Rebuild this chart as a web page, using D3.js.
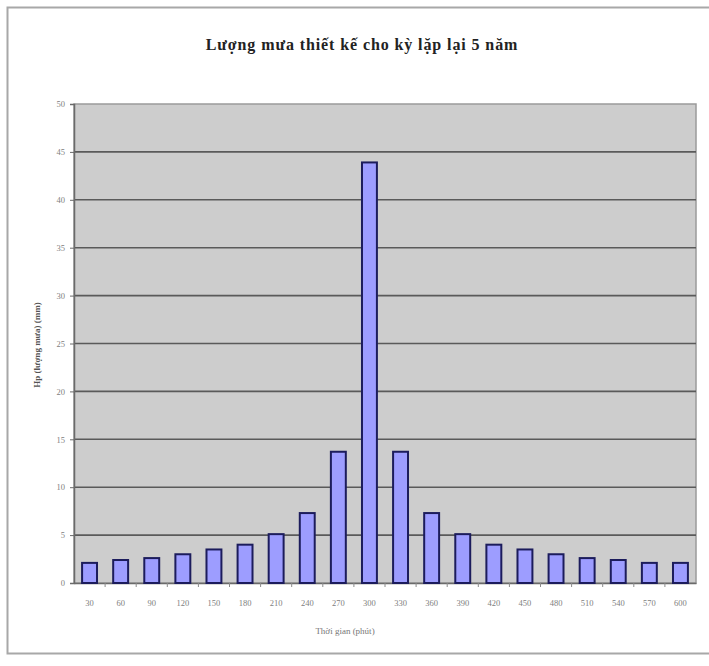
<!DOCTYPE html>
<html>
<head>
<meta charset="utf-8">
<script src="https://cdn.jsdelivr.net/npm/d3@7/dist/d3.min.js"></script>
<style>
  body { margin: 0; background: #fff; }
  svg { display: block; }
</style>
</head>
<body>
<svg id="chart" width="709" height="666"></svg>
<script>
// Rainfall duration (minutes) and design rainfall depth for a 5-year return period
const durations = ["30", "60", "90", "120", "150", "180", "210", "240", "270", "300",
                   "330", "360", "390", "420", "450", "480", "510", "540", "570", "600"];
const rainfall = [2.1, 2.4, 2.6, 3.0, 3.5, 4.0, 5.1, 7.3, 13.7, 43.9,
                  13.7, 7.3, 5.1, 4.0, 3.5, 3.0, 2.6, 2.4, 2.1, 2.1];
const yTicks = [0, 5, 10, 15, 20, 25, 30, 35, 40, 45, 50];

const title = "Lượng mưa thiết kế cho kỳ lặp lại 5 năm";
const xTitle = "Thời gian (phút)";
const yTitle = "Hp (lượng mưa) (mm)";

const svg = d3.select("#chart");
const plot = { left: 74, right: 696, top: 104, bottom: 583 };

// outer chart frame
svg.append("path")
  .attr("d", `M709,7.5 H7.5 V653.5 H709`)
  .attr("fill", "none")
  .attr("stroke", "#a8a8a8")
  .attr("stroke-width", 2);

const x = d3.scaleBand()
  .domain(durations)
  .range([plot.left, plot.right])
  .paddingInner(0.52)
  .paddingOuter(0.26);

const y = d3.scaleLinear()
  .domain([0, 50])
  .range([plot.bottom, plot.top]);

// plot area background
svg.append("rect")
  .attr("x", plot.left)
  .attr("y", plot.top)
  .attr("width", plot.right - plot.left)
  .attr("height", plot.bottom - plot.top)
  .attr("fill", "#cdcdcd")
  .attr("stroke", "#9a9a9a")
  .attr("stroke-width", 1.5);

// horizontal gridlines
svg.append("g")
  .selectAll("line")
  .data(yTicks.filter(d => d > 0 && d < 50))
  .join("line")
  .attr("x1", plot.left)
  .attr("x2", plot.right)
  .attr("y1", d => y(d))
  .attr("y2", d => y(d))
  .attr("stroke", "#5a5a5a")
  .attr("stroke-width", 1.6);

// y axis
const yAxis = svg.append("g")
  .attr("transform", `translate(${plot.left},0)`)
  .call(d3.axisLeft(y).tickValues(yTicks).tickSize(4).tickPadding(5));
yAxis.select(".domain").attr("stroke", "#6a6a6a").attr("stroke-width", 1.5);
yAxis.selectAll(".tick line").attr("stroke", "#6a6a6a");
yAxis.selectAll(".tick text")
  .attr("fill", "#808080")
  .style("font-family", "'Liberation Serif', serif")
  .style("font-size", "8.5px");

// x axis with ticks between categories
const xAxis = svg.append("g")
  .attr("transform", `translate(0,${plot.bottom})`)
  .call(d3.axisBottom(x).tickSize(0).tickPadding(17));
xAxis.select(".domain").attr("stroke", "#6a6a6a").attr("stroke-width", 1.5);
xAxis.selectAll(".tick text")
  .attr("fill", "#808080")
  .style("font-family", "'Liberation Serif', serif")
  .style("font-size", "8.5px");
xAxis.append("g")
  .selectAll("line")
  .data(durations.slice(1))
  .join("line")
  .attr("x1", d => x(d) - x.step() * x.paddingInner() / 2)
  .attr("x2", d => x(d) - x.step() * x.paddingInner() / 2)
  .attr("y1", 0)
  .attr("y2", 4)
  .attr("stroke", "#8a8a8a");

// bars
svg.append("g")
  .selectAll("rect")
  .data(durations.map((d, i) => ({ d, v: rainfall[i] })))
  .join("rect")
  .attr("x", p => x(p.d))
  .attr("width", x.bandwidth())
  .attr("y", p => y(p.v))
  .attr("height", p => y(0) - y(p.v))
  .attr("fill", "#9d9dff")
  .attr("stroke", "#1c1c5c")
  .attr("stroke-width", 2);

// titles
svg.append("text")
  .attr("x", 362)
  .attr("y", 50)
  .attr("text-anchor", "middle")
  .style("font-family", "'Liberation Serif', serif")
  .style("font-weight", "bold")
  .style("font-size", "16px")
  .style("letter-spacing", "0.9px")
  .attr("fill", "#222")
  .text(title);

svg.append("text")
  .attr("x", 345)
  .attr("y", 634)
  .attr("text-anchor", "middle")
  .style("font-family", "'Liberation Serif', serif")
  .style("font-size", "9px")
  .attr("fill", "#777")
  .text(xTitle);

svg.append("text")
  .attr("transform", "translate(40,345) rotate(-90)")
  .attr("text-anchor", "middle")
  .style("font-family", "'Liberation Serif', serif")
  .style("font-weight", "bold")
  .style("font-size", "9px")
  .attr("fill", "#555")
  .text(yTitle);
</script>
</body>
</html>
